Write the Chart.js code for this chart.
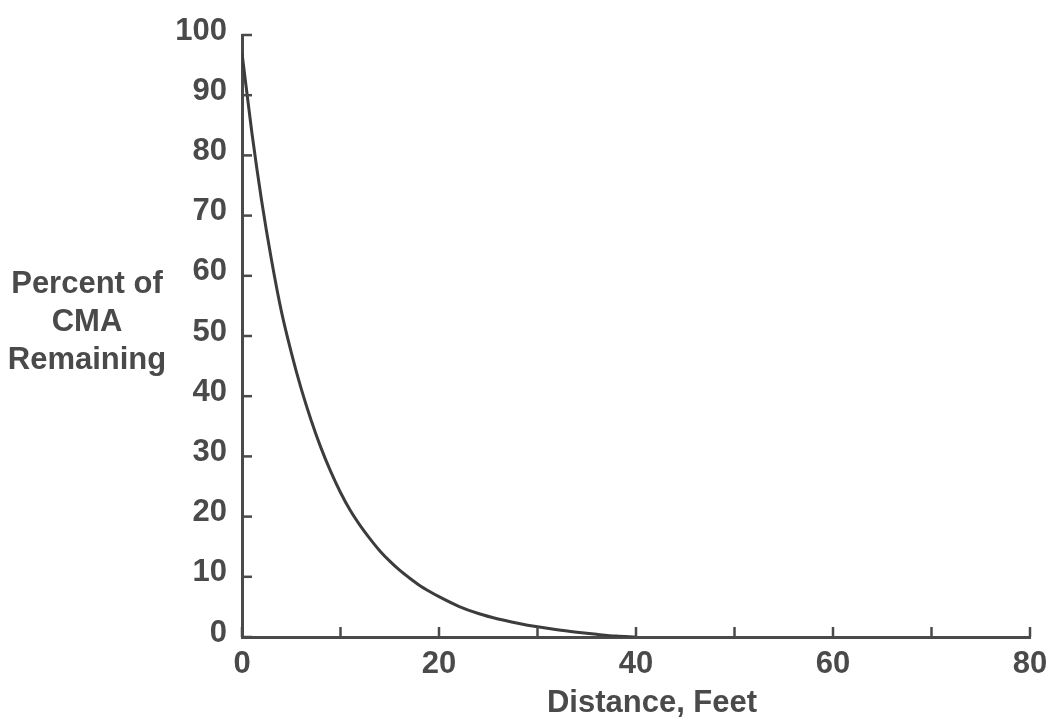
<!DOCTYPE html>
<html>
<head>
<meta charset="utf-8">
<script src="https://cdn.jsdelivr.net/npm/chart.js@4.4.1/dist/chart.umd.min.js"></script>
<style>
  html, body { margin: 0; padding: 0; background: #ffffff; }
  #wrap { width: 1051px; height: 719px; position: relative; }
</style>
</head>
<body>
<div id="wrap"><canvas id="c" width="1051" height="719"></canvas></div>
<script>
// ---- data ----
const distanceFeet = [0, 1, 2, 3, 4, 5, 6, 7, 8, 9, 10, 11, 12, 13, 14, 15, 16, 17, 18, 19, 20, 22, 24, 26, 28, 30, 32, 34, 36, 38, 40];
const percentRemaining = [97, 83.8, 72.4, 62.6, 54.1, 47.3, 41.3, 36.1, 31.5, 27.5, 24.0, 21.0, 18.5, 16.3, 14.3, 12.6, 11.1, 9.8, 8.6, 7.6, 6.7, 5.1, 3.9, 3.0, 2.3, 1.7, 1.2, 0.8, 0.45, 0.15, 0];
const xTickValues = [0, 10, 20, 30, 40, 50, 60, 70, 80];
const xTickLabels = ['0', '', '20', '', '40', '', '60', '', '80'];
const yTickValues = [0, 10, 20, 30, 40, 50, 60, 70, 80, 90, 100];
const yTickLabels = ['0', '10', '20', '30', '40', '50', '60', '70', '80', '90', '100'];
const yTitleLines = ['Percent of', 'CMA', 'Remaining'];
const xTitle = 'Distance, Feet';

const INK = '#4a4a4a';
const FONT = { family: '"Liberation Sans", Arial, Helvetica, sans-serif', size: 31, weight: 'bold' };

const points = distanceFeet.map((x, i) => ({ x: x, y: percentRemaining[i] }));

const decorPlugin = {
  id: 'decor',
  afterDraw(chart) {
    const ctx = chart.ctx;
    const xs = chart.scales.x, ys = chart.scales.y;
    const area = chart.chartArea;
    ctx.save();
    ctx.strokeStyle = INK;
    ctx.lineWidth = 2.5;
    // inward tick marks
    xTickValues.forEach(v => {
      const px = xs.getPixelForValue(v);
      ctx.beginPath();
      ctx.moveTo(px, area.bottom);
      ctx.lineTo(px, area.bottom - 10);
      ctx.stroke();
    });
    yTickValues.forEach(v => {
      const py = ys.getPixelForValue(v);
      ctx.beginPath();
      ctx.moveTo(area.left, py);
      ctx.lineTo(area.left + 10, py);
      ctx.stroke();
    });
    // titles
    ctx.fillStyle = INK;
    ctx.font = FONT.weight + ' ' + FONT.size + 'px ' + FONT.family;
    ctx.textAlign = 'center';
    ctx.textBaseline = 'middle';
    yTitleLines.forEach((t, i) => {
      ctx.fillText(t, area.left - 155, 284 + i * 38);
    });
    ctx.fillText(xTitle, (area.left + area.right) / 2 + 16, 703);
    ctx.restore();
  }
};

new Chart(document.getElementById('c'), {
  type: 'line',
  data: {
    datasets: [{
      data: points,
      borderColor: '#3c3c3c',
      borderWidth: 3,
      pointRadius: 0,
      fill: false,
      cubicInterpolationMode: 'monotone'
    }]
  },
  options: {
    responsive: false,
    animation: false,
    devicePixelRatio: 1,
    layout: { padding: { top: 35, right: 21, left: 0, bottom: 0 } },
    plugins: { legend: { display: false }, tooltip: { enabled: false } },
    scales: {
      x: {
        type: 'linear',
        min: 0, max: 80,
        afterBuildTicks(scale) { scale.ticks = xTickValues.map(v => ({ value: v })); },
        afterFit(scale) { scale.height = 82; scale.paddingLeft = 0; scale.paddingRight = 0; },
        ticks: {
          autoSkip: false,
          maxRotation: 0,
          padding: 9,
          color: INK,
          font: FONT,
          callback: (v) => xTickLabels[xTickValues.indexOf(v)]
        },
        grid: { display: false, drawTicks: false },
        border: { display: true, color: INK, width: 3 }
      },
      y: {
        type: 'linear',
        min: 0, max: 100,
        afterBuildTicks(scale) { scale.ticks = yTickValues.map(v => ({ value: v })); },
        afterFit(scale) { scale.width = 242; scale.paddingTop = 0; scale.paddingBottom = 0; },
        ticks: {
          autoSkip: false,
          padding: 15,
          labelOffset: -4,
          color: INK,
          font: FONT,
          callback: (v) => yTickLabels[yTickValues.indexOf(v)]
        },
        grid: { display: false, drawTicks: false },
        border: { display: true, color: INK, width: 3 }
      }
    }
  },
  plugins: [decorPlugin]
});
</script>
</body>
</html>
